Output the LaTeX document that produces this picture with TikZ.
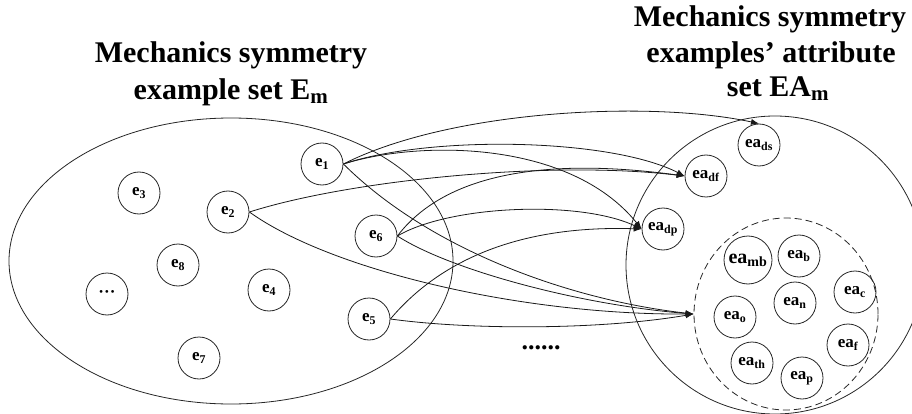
\documentclass[tikz,border=0pt]{standalone}
\usepackage{fontspec}
\setmainfont{Liberation Serif}
\usetikzlibrary{arrows.meta,shapes.geometric}
\tikzset{
  elem/.style={circle,draw=black!85,line width=0.8pt,minimum size=42pt,inner sep=0pt,font=\fontsize{17}{19}\selectfont\bfseries},
  bigelem/.style={elem,minimum size=48pt,font=\fontsize{20}{22}\selectfont\bfseries},
  ttl/.style={anchor=base,inner sep=0pt,font=\fontsize{30}{36}\selectfont\bfseries},
  setline/.style={draw=black!85,line width=0.8pt},
  link/.style={draw=black!90,line width=0.8pt,-{Latex[length=8pt,width=6pt]}}
}
\begin{document}
\begin{tikzpicture}[x=1pt,y=-1pt]
\clip (0,0) rectangle (912,414);
% titles
\node[ttl] (t1) at (231,63) {Mechanics symmetry};
\node[ttl] (t2) at (231,100) {example set E\textsubscript{m}};
\node[ttl] (t3) at (770,27) {Mechanics symmetry};
\node[ttl] (t4) at (771,63) {examples’ attribute};
\node[ttl] (t5) at (778,97) {set EA\textsubscript{m}};
% sets
\node[ellipse,setline,minimum width=444pt,minimum height=286pt] (E) at (231,261) {};
\node[circle,setline,minimum size=298pt] (A) at (775,265) {};
\node[ellipse,setline,dash pattern=on 7pt off 4pt,minimum width=184pt,minimum height=192pt] (D) at (786,314) {};
% elements
\node[elem] (e1) at (322,164) {e\textsubscript{1}};
\node[elem] (e2) at (228,212) {e\textsubscript{2}};
\node[elem] (e3) at (139,193) {e\textsubscript{3}};
\node[elem] (e4) at (269,290) {e\textsubscript{4}};
\node[elem] (e5) at (369,319) {e\textsubscript{5}};
\node[elem] (e6) at (376,236) {e\textsubscript{6}};
\node[elem] (e7) at (199,358) {e\textsubscript{7}};
\node[elem] (e8) at (178,265) {e\textsubscript{8}};
\node[elem] (edots) at (107,294) {···};
% attributes
\node[elem] (eads) at (759,145) {ea\textsubscript{ds}};
\node[elem] (eadf) at (706,176) {ea\textsubscript{df}};
\node[elem] (eadp) at (663,229) {ea\textsubscript{dp}};
\node[bigelem] (eamb) at (748,260) {ea\textsubscript{mb}};
\node[elem] (eab) at (799,256) {ea\textsubscript{b}};
\node[elem] (eac) at (855,292) {ea\textsubscript{c}};
\node[elem] (ean) at (795,303) {ea\textsubscript{n}};
\node[elem] (eao) at (735,317) {ea\textsubscript{o}};
\node[elem] (eaf) at (848,345) {ea\textsubscript{f}};
\node[elem] (eath) at (752,363) {ea\textsubscript{th}};
\node[elem] (eap) at (802,378) {ea\textsubscript{p}};
\node[inner sep=0pt,font=\fontsize{26}{28}\selectfont\bfseries] (more) at (541,348) {......};
% links
\draw[link] (e1.east) .. controls (450,110) and (650,100) .. (eads.north);
\draw[link] (e1.east) .. controls (430,135) and (610,138) .. (eadf.west);
\draw[link] (e1.east) .. controls (420,140) and (570,140) .. (eadp.west);
\draw[link] (e1.east) .. controls (430,250) and (570,300) .. (D.west);
\draw[link] (e2.east) .. controls (350,180) and (550,160) .. (eadf.west);
\draw[link] (e2.east) .. controls (330,270) and (520,315) .. (D.west);
\draw[link] (e6.east) .. controls (440,180) and (530,155) .. (eadf.west);
\draw[link] (e6.east) .. controls (450,205) and (580,200) .. (eadp.west);
\draw[link] (e6.east) .. controls (450,270) and (580,305) .. (D.west);
\draw[link] (e5.east) .. controls (440,260) and (520,225) .. (eadp.west);
\draw[link] (e5.east) .. controls (470,330) and (600,330) .. (D.west);
\end{tikzpicture}
\end{document}
